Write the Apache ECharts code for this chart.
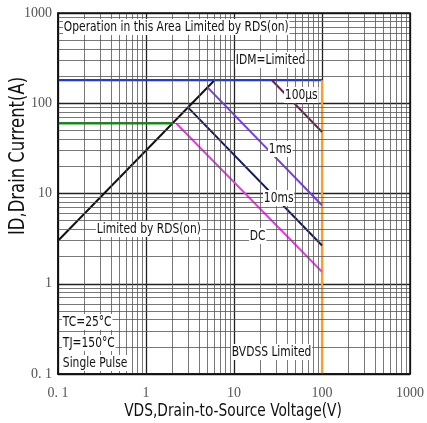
<!DOCTYPE html>
<html><head><meta charset="utf-8">
<script src="https://cdn.jsdelivr.net/npm/echarts@6/dist/echarts.min.js"></script>
<style>html,body{margin:0;padding:0;background:#fff}#c{width:427px;height:423px}</style>
</head><body><div id="c"></div>
<script>
// ---- data ----
const xTicks = [0.1, 1, 10, 100, 1000];
const xTickLabels = ['0. 1', '1', '10', '100', '1000'];
const yTicks = [0.1, 1, 10, 100, 1000];
const yTickLabels = ['0. 1', '1', '10', '100', '1000'];

const rdsLimit = [[0.1, 3], [6, 180]];
const idmLimit = [[0.1, 180], [100, 180]];
const dcCurrent = [[0.1, 60], [2, 60]];
const bvdssLimit = [[100, 180], [100, 0.1]];
const pulse100us = [[27, 180], [100, 48]];
const pulse1ms = [[5, 150], [100, 7.4]];
const pulse10ms = [[3, 90], [100, 2.65]];
const dcLine = [[2.2, 60], [100, 1.36]];

// ---- chart ----
const chart = echarts.init(document.getElementById('c'));
const minorVals = [];
[0.1, 1, 10, 100].forEach(d => { for (let k = 2; k <= 9; k++) minorVals.push(+(d * k).toPrecision(3)); });
const gridMarks = [];
minorVals.forEach(v => gridMarks.push({ xAxis: v }));
minorVals.forEach(v => gridMarks.push({ yAxis: v }));

function lbl(map, v) { const i = map.findIndex(t => Math.abs(t - v) / t < 1e-6); return i >= 0 ? map === xTicks ? xTickLabels[i] : yTickLabels[i] : ''; }

const tickFont = { fontFamily: 'Liberation Serif, serif', fontSize: 14, color: '#555' };
const inFont = "'DejaVu Sans Condensed', sans-serif";

function line(data, color, width) {
  return { type: 'line', data, symbol: 'none', animation: false, silent: true,
    lineStyle: { color, width }, z: 3 };
}

const texts = [
  ['Operation in this Area Limited by RDS(on)', 63, 19],
  ['IDM=Limited', 235, 52],
  ['100µs', 284, 87],
  ['1ms', 268, 141],
  ['10ms', 263, 190],
  ['DC', 249, 228],
  ['Limited by RDS(on)', 96, 221],
  ['TC=25°C', 62, 314],
  ['TJ=150°C', 62, 335],
  ['Single Pulse', 62, 355],
  ['BVDSS Limited', 231, 344]
];

chart.setOption({
  animation: false,
  grid: { left: 58, right: 17, top: 13, bottom: 49, outerBoundsMode: 'none' },
  xAxis: {
    type: 'log', logBase: 10, min: 0.1, max: 1000,
    axisLine: { lineStyle: { color: '#111', width: 1.5 } },
    axisTick: { show: false },
    axisLabel: { ...tickFont, margin: 12, formatter: v => lbl(xTicks, v) },
    splitLine: { show: true, lineStyle: { color: '#222', width: 1.3 } }
  },
  yAxis: {
    type: 'log', logBase: 10, min: 0.1, max: 1000,
    axisLine: { lineStyle: { color: '#111', width: 1.5 } },
    axisTick: { show: false },
    axisLabel: { ...tickFont, margin: 6, formatter: v => lbl(yTicks, v) },
    splitLine: { show: true, lineStyle: { color: '#222', width: 1.3 } }
  },
  graphic: [
    { type: 'rect', shape: { x: 58, y: 13, width: 352, height: 361 }, style: { fill: 'none', stroke: '#111', lineWidth: 1.5 }, z: 50, silent: true },
    { type: 'text', x: 233, y: 411, scaleX: 0.85, z: 100, silent: true,
      style: { text: 'VDS,Drain-to-Source Voltage(V)', font: `18px ${inFont}`, fill: '#111', align: 'center', verticalAlign: 'middle' } },
    { type: 'text', x: 19, y: 156, rotation: Math.PI / 2, scaleX: 0.87, z: 100, silent: true,
      style: { text: 'ID,Drain Current(A)', font: `21px ${inFont}`, fill: '#111', align: 'center', verticalAlign: 'middle' } },
    ...texts.map(t => ({ type: 'text', left: t[1], top: t[2], scaleX: 0.85, z: 100, silent: true,
      style: { text: t[0], font: `14px ${inFont}`, fill: '#111', backgroundColor: '#fff', padding: [1, 1] } }))
  ],
  series: [
    { type: 'line', data: [], silent: true, markLine: { silent: true, symbol: 'none', animation: false, label: { show: false },
      lineStyle: { color: '#555', width: 0.8, type: 'solid' }, data: gridMarks }, z: 1 },
    line(rdsLimit, '#111', 2),
    line(idmLimit, '#2137e0', 2.2),
    line(dcCurrent, '#1f8a1f', 2.5),
    line(bvdssLimit, '#f5a033', 2.2),
    line(pulse100us, '#6a2050', 2),
    line(pulse1ms, '#7a3cf0', 2),
    line(pulse10ms, '#14185e', 2),
    line(dcLine, '#e23ee0', 2)
  ]
});
</script></body></html>
